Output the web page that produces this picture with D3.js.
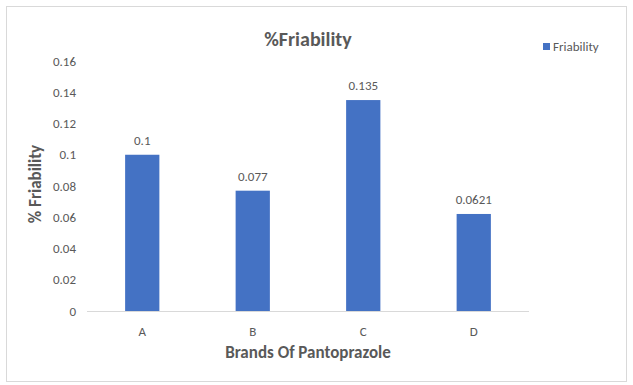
<!doctype html>
<html>
<head>
<meta charset="utf-8">
<script src="https://d3js.org/d3.v7.min.js"></script>
<style>
  body { margin: 0; background: #fff; }
  svg text { font-family: Carlito, Lato, "Liberation Sans", sans-serif; fill: #595959; }
  .axis path, .axis line { display: none; }
</style>
</head>
<body>
<script>
// chart values
var brands = ["A", "B", "C", "D"];
var friability = [0.1, 0.077, 0.135, 0.0621];
var friabilityLabels = ["0.1", "0.077", "0.135", "0.0621"];
var yTicks = [0, 0.02, 0.04, 0.06, 0.08, 0.1, 0.12, 0.14, 0.16];

var W = 633, H = 385;
var plot = {left: 87, right: 529, top: 61, bottom: 311};

var svg = d3.select("body").append("svg")
  .attr("width", W)
  .attr("height", H);

// chart border
svg.append("rect")
  .attr("x", 6.5).attr("y", 6.5)
  .attr("width", 620).attr("height", 375)
  .attr("fill", "#fff")
  .attr("stroke", "#d9d9d9");

var x = d3.scaleBand()
  .domain(brands)
  .range([plot.left, plot.right])
  .paddingInner(0.69)
  .paddingOuter(0.345);

var y = d3.scaleLinear()
  .domain([0, 0.16])
  .range([plot.bottom, plot.top]);

// y axis labels
var yAxis = d3.axisLeft(y)
  .tickValues(yTicks)
  .tickSize(0)
  .tickPadding(0)
  .tickFormat(function(d) { return d === 0 ? "0" : d3.format(".2~f")(d); });

svg.append("g")
  .attr("class", "axis")
  .attr("transform", "translate(76,0)")
  .call(yAxis)
  .selectAll("text")
  .style("font-size", "13px")
  .attr("dy", "0.32em");

// bars
svg.selectAll(".bar")
  .data(brands)
  .enter().append("rect")
  .attr("class", "bar")
  .attr("x", function(d) { return x(d); })
  .attr("width", x.bandwidth())
  .attr("y", function(d, i) { return y(friability[i]); })
  .attr("height", function(d, i) { return y(0) - y(friability[i]); })
  .attr("fill", "#4472c4");

// x axis line
svg.append("line")
  .attr("x1", plot.left).attr("x2", plot.right)
  .attr("y1", plot.bottom + 0.5).attr("y2", plot.bottom + 0.5)
  .attr("stroke", "#d9d9d9");

var xAxis = d3.axisBottom(x).tickSize(0).tickPadding(0);
svg.append("g")
  .attr("class", "axis")
  .attr("transform", "translate(0," + (plot.bottom + 16) + ")")
  .call(xAxis)
  .selectAll("text")
  .style("font-size", "13px");

// data labels
svg.selectAll(".lbl")
  .data(brands)
  .enter().append("text")
  .attr("class", "lbl")
  .attr("x", function(d) { return x(d) + x.bandwidth() / 2; })
  .attr("y", function(d, i) { return y(friability[i]) - 10; })
  .attr("text-anchor", "middle")
  .style("font-size", "13px")
  .text(function(d, i) { return friabilityLabels[i]; });

// title
svg.append("text")
  .attr("x", 308).attr("y", 46)
  .attr("text-anchor", "middle")
  .style("font-size", "20px")
  .style("font-weight", "bold")
  .text("%Friability");

// axis titles
svg.append("text")
  .attr("x", 308).attr("y", 358)
  .attr("text-anchor", "middle")
  .style("font-size", "17px")
  .style("font-weight", "bold")
  .text("Brands Of Pantoprazole");

svg.append("text")
  .attr("transform", "translate(41,184) rotate(-90)")
  .attr("text-anchor", "middle")
  .style("font-size", "17px")
  .style("font-weight", "bold")
  .text("% Friability");

// legend
var legend = svg.append("g").attr("transform", "translate(543,43)");
legend.append("rect")
  .attr("width", 7).attr("height", 7)
  .attr("fill", "#4472c4");
legend.append("text")
  .attr("x", 10).attr("y", 8)
  .style("font-size", "13px")
  .text("Friability");
</script>
</body>
</html>
